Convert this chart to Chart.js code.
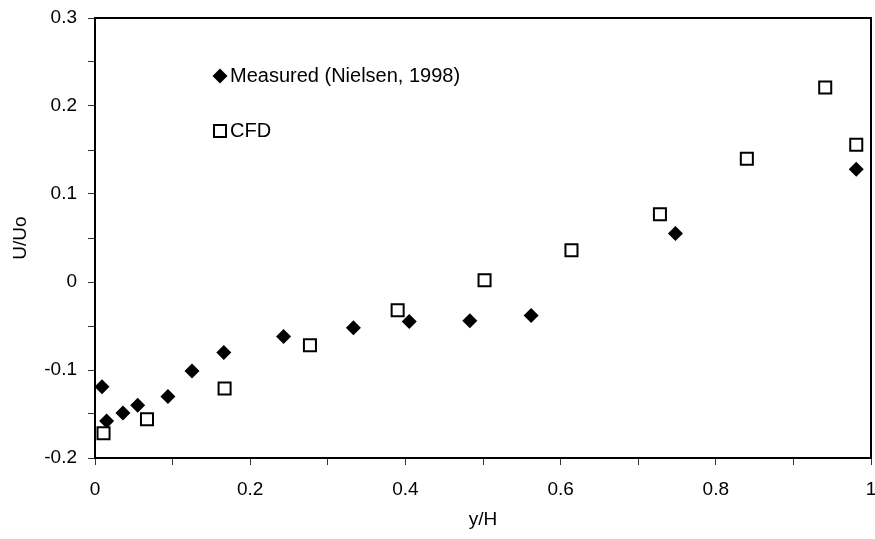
<!DOCTYPE html>
<html>
<head>
<meta charset="utf-8">
<script src="https://cdn.jsdelivr.net/npm/chart.js@4/dist/chart.umd.min.js"></script>
<style>
html,body{margin:0;padding:0;background:#fff;}
canvas{display:block;}
</style>
</head>
<body>
<canvas id="c" width="875" height="539"></canvas>
<script>
const measuredX = [0.009, 0.015, 0.036, 0.055, 0.094, 0.125, 0.166, 0.243, 0.333, 0.405, 0.483, 0.562, 0.748, 0.981];
const measuredY = [-0.119, -0.158, -0.149, -0.140, -0.130, -0.101, -0.080, -0.062, -0.052, -0.045, -0.044, -0.038, 0.055, 0.128];
const cfdX = [0.011, 0.067, 0.167, 0.277, 0.390, 0.502, 0.614, 0.728, 0.840, 0.941, 0.981];
const cfdY = [-0.172, -0.156, -0.121, -0.072, -0.032, 0.002, 0.036, 0.077, 0.140, 0.221, 0.156];
const seriesNames = ['Measured (Nielsen, 1998)', 'CFD'];
const xTitle = 'y/H';
const yTitle = 'U/Uo';

const FONT = "'Liberation Sans', Arial, sans-serif";

const boxAndLegend = {
  id: 'boxAndLegend',
  afterDraw(chart) {
    const {ctx, chartArea: a} = chart;
    ctx.save();
    ctx.strokeStyle = '#000';
    ctx.lineWidth = 2;
    ctx.beginPath();
    ctx.moveTo(a.left, a.top);
    ctx.lineTo(a.right, a.top);
    ctx.lineTo(a.right, a.bottom);
    ctx.stroke();
    // legend
    const lx = 220, ly1 = 76, ly2 = 131;
    ctx.fillStyle = '#000';
    ctx.beginPath();
    ctx.moveTo(lx - 7.5, ly1);
    ctx.lineTo(lx, ly1 - 7.5);
    ctx.lineTo(lx + 7.5, ly1);
    ctx.lineTo(lx, ly1 + 7.5);
    ctx.closePath();
    ctx.fill();
    ctx.fillStyle = '#fff';
    ctx.strokeStyle = '#000';
    ctx.lineWidth = 2;
    ctx.fillRect(lx - 6, ly2 - 6, 12, 12);
    ctx.strokeRect(lx - 6, ly2 - 6, 12, 12);
    ctx.fillStyle = '#000';
    ctx.font = '20px ' + FONT;
    ctx.textBaseline = 'middle';
    ctx.textAlign = 'left';
    ctx.fillText(seriesNames[0], 230, ly1);
    ctx.fillText(seriesNames[1], 230, ly2);
    ctx.restore();
  }
};

new Chart(document.getElementById('c'), {
  type: 'scatter',
  data: {
    datasets: [
      {
        label: seriesNames[0],
        data: measuredX.map((x, i) => ({x, y: measuredY[i]})),
        pointStyle: 'rectRot',
        pointRadius: 7.5,
        pointHoverRadius: 7.5,
        backgroundColor: '#000',
        borderColor: '#000',
        borderWidth: 0,
        order: 0
      },
      {
        label: seriesNames[1],
        data: cfdX.map((x, i) => ({x, y: cfdY[i]})),
        pointStyle: 'rect',
        pointRadius: 8.5,
        pointHoverRadius: 8.5,
        backgroundColor: '#fff',
        borderColor: '#000',
        borderWidth: 2,
        order: 1
      }
    ]
  },
  options: {
    responsive: false,
    animation: false,
    devicePixelRatio: 1,
    layout: {autoPadding: false, padding: {top: 18, right: 4, left: 0, bottom: 0}},
    plugins: {legend: {display: false}, tooltip: {enabled: false}},
    scales: {
      x: {
        type: 'linear',
        min: 0, max: 1,
        afterFit(s) { s.height = 81; s.paddingLeft = 0; s.paddingRight = 0; },
        ticks: {
          stepSize: 0.1,
          autoSkip: false,
          maxRotation: 0,
          padding: 13,
          color: '#000',
          font: {family: FONT, size: 19},
          callback(v) {
            const k = Math.round(v * 10);
            return k % 2 === 0 ? String(k / 10) : '';
          }
        },
        grid: {drawOnChartArea: false, tickLength: 7, color: '#333', lineWidth: 1},
        border: {display: true, color: '#000', width: 2},
        title: {display: true, text: xTitle, color: '#000', font: {family: FONT, size: 19}, padding: {top: 0, bottom: 8}}
      },
      y: {
        type: 'linear',
        min: -0.2, max: 0.3,
        afterFit(s) { s.width = 95; s.paddingTop = 0; s.paddingBottom = 0; },
        ticks: {
          stepSize: 0.05,
          autoSkip: false,
          padding: 11,
          color: '#000',
          font: {family: FONT, size: 19},
          callback(v) {
            const k = Math.round(v * 20);
            return k % 2 === 0 ? String(k / 20) : '';
          }
        },
        grid: {drawOnChartArea: false, tickLength: 7, color: '#333', lineWidth: 1},
        border: {display: true, color: '#000', width: 2},
        title: {display: true, text: yTitle, color: '#000', font: {family: FONT, size: 19}, padding: {top: 9, bottom: 0}}
      }
    }
  },
  plugins: [boxAndLegend]
});
</script>
</body>
</html>
